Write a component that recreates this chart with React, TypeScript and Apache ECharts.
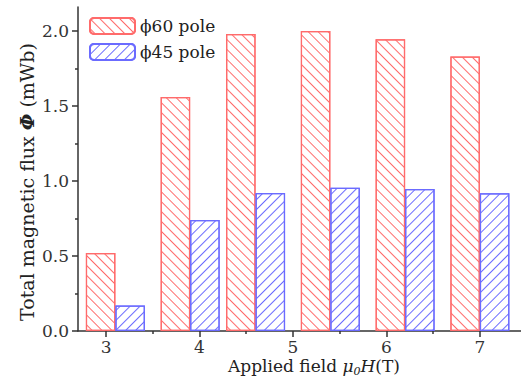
import React, { useEffect, useRef } from "react";
import * as echarts from "echarts";

const fieldPositions = [3.1, 3.9, 4.6, 5.4, 6.2, 7.0];
const pole60 = [0.52, 1.56, 1.98, 2.0, 1.945, 1.83];
const pole45 = [0.17, 0.74, 0.92, 0.955, 0.947, 0.918];
const xMajorTicks = [3, 4, 5, 6, 7];
const xMinorTicks = [3.5, 4.5, 5.5, 6.5];
const yMajorTicks = [0, 0.5, 1.0, 1.5, 2.0];
const yMinorTicks = [0.25, 0.75, 1.25, 1.75];
const seriesNames = ["\u03D560 pole", "\u03D545 pole"];

const FONT = "DejaVu Serif";
const RED = "#ff6b6b";
const BLUE = "#6b6bff";
const AXIS = "#333333";

export default function App() {
  const ref = useRef<HTMLDivElement>(null);
  useEffect(() => {
    if (!ref.current) return;
    const chart = echarts.init(ref.current, null, { renderer: "svg" });
    const xMin = 2.7;
    const xMax = 7.44;
    const yMin = 0;
    const yMax = 2.16;
    const baseX = {
      type: "value",
      min: xMin,
      max: xMax,
      position: "bottom",
      splitLine: { show: false },
    };
    const baseY = {
      type: "value",
      min: yMin,
      max: yMax,
      position: "left",
      splitLine: { show: false },
    };
    chart.setOption({
      animation: false,
      backgroundColor: "#ffffff",
      grid: { left: 78, right: 0, top: 7, bottom: 47, containLabel: false, outerBoundsMode: "none" },
      legend: {
        orient: "vertical",
        left: 84,
        top: 12,
        itemWidth: 45,
        itemHeight: 16,
        itemGap: 8,
        textStyle: { fontFamily: FONT, fontSize: 17, color: "#222" },
        data: seriesNames,
      },
      graphic: [
        {
          type: "text",
          x: 314,
          y: 366,
          style: {
            text: "{a|Applied field }{i|\u03BC}{s|0}{i|H}{a|(T)}",
            align: "center",
            verticalAlign: "middle",
            rich: {
              a: { fontFamily: FONT, fontSize: 17, fill: "#222" },
              i: { fontFamily: FONT, fontSize: 17, fontStyle: "italic", fill: "#222" },
              s: { fontFamily: FONT, fontSize: 11, fontStyle: "italic", fill: "#222", padding: [10, 0, 0, 0] },
            },
          },
        },
        {
          type: "text",
          x: 27,
          y: 182,
          rotation: Math.PI / 2,
          style: {
            text: "{a|Total magnetic flux }{b|\u03A6}{a| (mWb)}",
            align: "center",
            verticalAlign: "middle",
            rich: {
              a: { fontFamily: FONT, fontSize: 19, fill: "#222" },
              b: { fontFamily: FONT, fontSize: 19, fontStyle: "italic", fontWeight: "bold", fill: "#222" },
            },
          },
        },
      ],
      xAxis: [
        {
          ...baseX,
          axisLine: { show: true, lineStyle: { color: AXIS, width: 1.5 } },
          axisTick: { show: true, customValues: xMajorTicks, length: 6, lineStyle: { color: AXIS, width: 1.5 } },
          axisLabel: {
            show: true,
            customValues: xMajorTicks,
            fontFamily: FONT,
            fontSize: 17,
            color: "#333",
            margin: 7,
          },
        },
        {
          ...baseX,
          axisLine: { show: false },
          axisTick: { show: true, customValues: xMinorTicks, length: 3, lineStyle: { color: AXIS, width: 1.5 } },
          axisLabel: { show: false },
        },
      ],
      yAxis: [
        {
          ...baseY,
          axisLine: { show: true, lineStyle: { color: AXIS, width: 1.5 } },
          axisTick: { show: true, customValues: yMajorTicks, length: 6, lineStyle: { color: AXIS, width: 1.5 } },
          axisLabel: {
            show: true,
            customValues: yMajorTicks,
            formatter: (v: number) => v.toFixed(1),
            fontFamily: FONT,
            fontSize: 17,
            color: "#333",
            margin: 9,
          },
        },
        {
          ...baseY,
          axisLine: { show: false },
          axisTick: { show: true, customValues: yMinorTicks, length: 3, lineStyle: { color: AXIS, width: 1.5 } },
          axisLabel: { show: false },
        },
      ],
      series: [
        {
          name: seriesNames[0],
          type: "bar",
          xAxisIndex: 0,
          yAxisIndex: 0,
          barWidth: 29.5,
          barGap: "0%",
          data: fieldPositions.map((x, i) => [x, pole60[i]]),
          itemStyle: {
            color: "#ffffff",
            borderColor: RED,
            borderWidth: 1.2,
            decal: {
              symbol: "rect",
              symbolSize: 1,
              color: RED,
              dashArrayX: [1, 0],
              dashArrayY: [1, 6],
              rotation: Math.PI / 4,
            },
          },
        },
        {
          name: seriesNames[1],
          type: "bar",
          xAxisIndex: 0,
          yAxisIndex: 0,
          barWidth: 29.5,
          barGap: "0%",
          data: fieldPositions.map((x, i) => [x, pole45[i]]),
          itemStyle: {
            color: "#ffffff",
            borderColor: BLUE,
            borderWidth: 1.2,
            decal: {
              symbol: "rect",
              symbolSize: 1,
              color: BLUE,
              dashArrayX: [1, 0],
              dashArrayY: [1, 6],
              rotation: -Math.PI / 4,
            },
          },
        },
      ],
    });
    return () => chart.dispose();
  }, []);
  return <div ref={ref} style={{ width: 521, height: 378, position: "absolute", left: 0, top: 0 }} />;
}
